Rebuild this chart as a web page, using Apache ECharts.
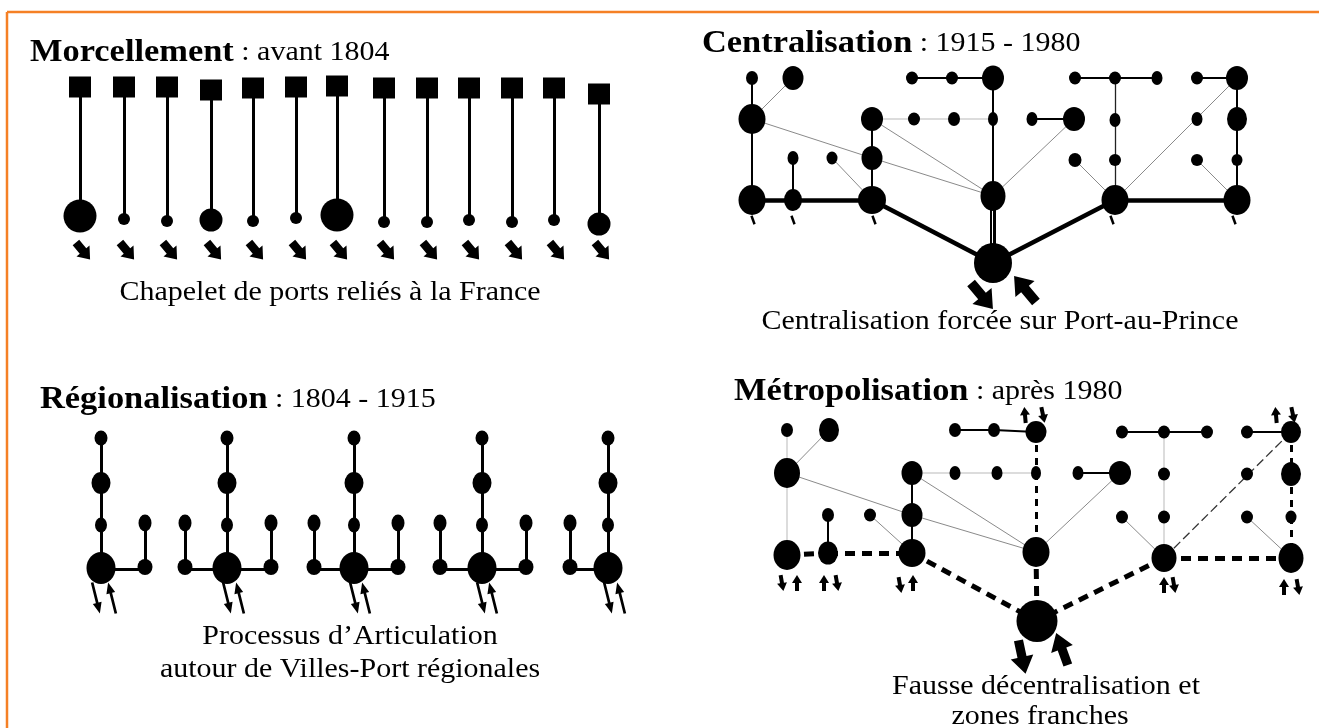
<!DOCTYPE html>
<html>
<head>
<meta charset="utf-8">
<script src="https://cdn.jsdelivr.net/npm/echarts@6/dist/echarts.min.js"></script>
<style>
html, body { margin: 0; padding: 0; background: #fff; }
#chart { width: 1319px; height: 728px; }
</style>
</head>
<body>
<div id="chart"></div>
<script>
// page is laid out in pixel units, axes are hidden
const W = 1319, H = 728;

// Morcellement : one port per line, each linked to France
const p1PortX = [80, 124, 167, 211, 253, 296, 337, 384, 427, 469, 512, 554, 599];
const p1SquareY = [87, 87, 87, 90, 88, 87, 86, 88, 88, 88, 88, 88, 94];
const p1PortY = [216, 219, 221, 220, 221, 218, 215, 222, 222, 220, 222, 220, 224];
const p1PortSize = [33, 12, 12, 23, 12, 12, 33, 12, 12, 12, 12, 12, 23];

// Régionalisation : five regional port-cities
const p3HubX = [101, 227, 354, 482, 608];
const p3ChainY = [438, 483, 525, 568];
const p3ChainSize = [[13, 15], [19, 22], [12, 15], [29, 32]];
const p3LeftX = [null, 185, 314, 440, 570];
const p3RightX = [145, 271, 398, 526, null];
const p3SideY = [523, 567];
const p3DownX = [96, 227, 354, 481, 608];
const p3UpX = [112, 240, 366, 493, 621];

// Centralisation : nodes [x, y, w, h]
const p2Nodes = [
    [752, 78, 12, 14], [793, 78, 21, 24], [912, 78, 12, 13], [952, 78, 12, 13], [993, 78, 22, 25],
    [1075, 78, 12, 13], [1115, 78, 12, 13], [1157, 78, 11, 14], [1197, 78, 12, 13], [1237, 78, 22, 24],
    [752, 119, 27, 30], [872, 119, 22, 24], [914, 119, 12, 13], [954, 119, 12, 14], [993, 119, 10, 14],
    [1032, 119, 11, 14], [1074, 119, 22, 24], [1115, 120, 11, 14], [1197, 119, 11, 14], [1237, 119, 20, 24],
    [793, 158, 11, 14], [832, 158, 11, 13], [872, 158, 21, 24], [1075, 160, 13, 14], [1115, 160, 12, 12],
    [1197, 160, 12, 12], [1237, 160, 11, 12],
    [752, 200, 27, 30], [793, 200, 18, 22], [872, 200, 28, 28], [993, 196, 25, 30], [1115, 200, 27, 30],
    [1237, 200, 27, 30],
    [993, 263, 38, 40]
];
const p2Edges = [
    [0, 10, 'b'], [10, 27, 'b'], [2, 3, 'b'], [3, 4, 'b'], [4, 14, 'b'], [14, 30, 'b'], [15, 16, 'b'],
    [5, 6, 'b'], [6, 7, 'b'], [6, 17, 'bt'], [17, 24, 'bt'], [24, 31, 'bt'],
    [8, 9, 'b'], [9, 19, 'b'], [19, 26, 'b'], [26, 32, 'b'], [20, 28, 'b'], [11, 22, 'b'], [22, 29, 'b'],
    [1, 10, 'g'], [10, 22, 'g'], [11, 30, 'g'], [22, 30, 'g'], [16, 30, 'g'], [21, 29, 'g'],
    [23, 31, 'g'], [9, 31, 'g'], [25, 32, 'g'],
    [11, 12, 'lg'], [12, 13, 'lg'], [13, 14, 'lg'],
    [27, 28, 'T'], [28, 29, 'T'], [29, 33, 'T'], [30, 33, 'TT'], [31, 33, 'T'], [31, 32, 'T']
];
const p2TickX = [753, 793, 874, 1112, 1234];
const p2HubArrows = [[982, 296, 40], [1025, 289, 220]];

// Métropolisation : same network, new links
const p4Nodes = [
    [787, 430, 12, 14], [829, 430, 20, 24], [955, 430, 12, 14], [994, 430, 12, 14], [1036, 432, 21, 22],
    [1122, 432, 12, 13], [1164, 432, 12, 13], [1207, 432, 12, 13], [1247, 432, 12, 13], [1291, 432, 20, 22],
    [787, 473, 26, 30], [912, 473, 21, 24], [955, 473, 11, 14], [997, 473, 11, 14], [1036, 473, 10, 14],
    [1078, 473, 11, 14], [1120, 473, 22, 24], [1164, 474, 12, 13], [1247, 474, 12, 13], [1291, 474, 20, 24],
    [828, 515, 12, 14], [870, 515, 12, 13], [912, 515, 21, 24], [1122, 517, 12, 13], [1164, 517, 12, 13],
    [1247, 517, 12, 13], [1291, 517, 11, 13],
    [787, 555, 27, 30], [828, 553, 20, 23], [912, 553, 27, 28], [1036, 552, 27, 30], [1164, 558, 25, 28],
    [1291, 558, 25, 30],
    [1037, 621, 41, 42]
];
const p4Edges = [
    [0, 10, 'lg'], [10, 27, 'lg'], [2, 3, 'b'], [3, 4, 'b'], [4, 14, 'd'], [14, 30, 'd'], [15, 16, 'b'],
    [5, 6, 'b'], [6, 7, 'b'], [6, 17, 'lg'], [17, 24, 'lg'], [24, 31, 'lg'],
    [8, 9, 'b'], [9, 19, 'd'], [19, 26, 'd'], [26, 32, 'd'], [20, 28, 'b'], [11, 22, 'b'], [22, 29, 'b'],
    [1, 10, 'g'], [10, 22, 'g'], [11, 30, 'g'], [22, 30, 'g'], [16, 30, 'g'], [21, 29, 'g'],
    [23, 31, 'g'], [9, 31, 'dl'], [25, 32, 'g'],
    [11, 12, 'lg'], [12, 13, 'lg'], [13, 14, 'lg'],
    [27, 28, 'D'], [28, 29, 'D'], [29, 33, 'D'], [30, 33, 'D'], [31, 33, 'D'], [31, 32, 'D']
];
// small in/out arrows: [x, y, rotation of a down arrow]
const p4SmallArrows = [
    [782, 583, 10], [797, 583, 180], [824, 583, 180], [837, 583, 10], [900, 585, 10], [913, 583, 180],
    [1164, 585, 180], [1174, 585, 10], [1284, 587, 180], [1298, 587, 10],
    [1025, 415, 185], [1043, 415, 12], [1276, 415, 185], [1293, 415, 12]
];
const p4HubArrows = [[1022, 657, 12], [1062, 649, 200]];

// texts
const titles = [
    { x: 30, y: 53, bold: 'Morcellement', rest: ' : avant 1804' },
    { x: 702, y: 44, bold: 'Centralisation', rest: ' : 1915 - 1980' },
    { x: 40, y: 400, bold: 'Régionalisation', rest: ' : 1804 - 1915' },
    { x: 734, y: 392, bold: 'Métropolisation', rest: ' : après 1980' }
];
const captions = [
    { x: 330, y: 293, text: 'Chapelet de ports reliés à la France' },
    { x: 1000, y: 322, text: 'Centralisation forcée sur Port-au-Prince' },
    { x: 350, y: 637, text: 'Processus d’Articulation' },
    { x: 350, y: 670, text: 'autour de Villes-Port régionales' },
    { x: 1046, y: 687, text: 'Fausse décentralisation et' },
    { x: 1040, y: 717, text: 'zones franches' }
];

const SERIF = '"Liberation Serif", "Times New Roman", serif';
const STRETCH = 1.11;

const ARROW_FAT = 'path://M3,0 L9,0 L9,7 L12,7 L6,14 L0,7 L3,7 Z';
const ARROW_BLOCK = 'path://M3,0 L7,0 L7,7 L10,7 L5,14 L0,7 L3,7 Z';
const ARROW_THIN = 'path://M1.4,0 L2.6,0 L2.6,21 L4,21 L2,32 L0,21 L1.4,21 Z';

const edgeStyle = {
    lg: { color: '#dcdcdc', width: 2, type: 'solid', z: 1 },
    g: { color: '#8a8a8a', width: 1, type: 'solid', z: 1 },
    bt: { color: '#222', width: 1.3, type: 'solid', z: 2 },
    b: { color: '#000', width: 2, type: 'solid', z: 2 },
    dl: { color: '#333', width: 1.3, type: [9, 4], z: 2 },
    d: { color: '#000', width: 3, type: [7, 6], z: 2 },
    T: { color: '#000', width: 4.5, type: 'solid', z: 2 },
    TT: { color: '#000', width: 6, type: 'solid', z: 2 },
    D: { color: '#000', width: 5, type: [10, 7], z: 2 }
};

// collect line segments grouped by style
let segs = {};
Object.keys(edgeStyle).forEach(k => segs[k] = []);
let white = [];

function addNet(nodes, edges) {
    edges.forEach(e => {
        let a = nodes[e[0]], b = nodes[e[1]];
        segs[e[2]].push({ coords: [[a[0], a[1]], [b[0], b[1]]] });
        if (e[2] === 'TT') white.push({ coords: [[a[0] - 1, a[1]], [b[0] - 1, b[1]]] });
    });
}
addNet(p2Nodes, p2Edges);
addNet(p4Nodes, p4Edges);

// panel 1 stems
p1PortX.forEach((x, i) => {
    segs.b.push({ coords: [[x, p1SquareY[i]], [x, p1PortY[i]]], lineStyle: { width: 3 } });
});

// panel 3 chains
p3HubX.forEach((x, i) => {
    segs.b.push({ coords: [[x, p3ChainY[0]], [x, p3ChainY[3]]], lineStyle: { width: 3 } });
    [p3LeftX[i], p3RightX[i]].forEach(sx => {
        if (sx == null) return;
        segs.b.push({ coords: [[sx, p3SideY[0]], [sx, p3SideY[1]]], lineStyle: { width: 3 } });
    });
    let l = p3LeftX[i] == null ? x : p3LeftX[i];
    let r = p3RightX[i] == null ? x : p3RightX[i];
    segs.b.push({ coords: [[l, p3SideY[1] + 2], [r, p3SideY[1] + 2]], lineStyle: { width: 3 } });
});

// nodes
let nodeData = [];
p1PortX.forEach((x, i) => nodeData.push({ value: [x, p1PortY[i]], symbolSize: [p1PortSize[i], p1PortSize[i]] }));
p2Nodes.concat(p4Nodes).forEach(n => nodeData.push({ value: [n[0], n[1]], symbolSize: [n[2], n[3]] }));
p3HubX.forEach((x, i) => {
    p3ChainY.forEach((y, j) => nodeData.push({ value: [x, y], symbolSize: p3ChainSize[j] }));
    [p3LeftX[i], p3RightX[i]].forEach(sx => {
        if (sx == null) return;
        nodeData.push({ value: [sx, p3SideY[0]], symbolSize: [13, 17] });
        nodeData.push({ value: [sx, p3SideY[1]], symbolSize: [15, 16] });
    });
});

// arrows
let arrowData = [];
p1PortX.forEach(x => arrowData.push({ value: [x + 3, 251], symbol: ARROW_FAT, symbolSize: [17, 22], symbolRotate: 40 }));
p2HubArrows.forEach(a => arrowData.push({ value: [a[0], a[1]], symbol: ARROW_BLOCK, symbolSize: [25, 34], symbolRotate: a[2] }));
p2TickX.forEach(x => arrowData.push({ value: [x, 220], symbol: 'rect', symbolSize: [2.5, 9], symbolRotate: 20 }));
p3DownX.forEach(x => arrowData.push({ value: [x, 598], symbol: ARROW_THIN, symbolSize: [9, 32], symbolRotate: 14 }));
p3UpX.forEach(x => arrowData.push({ value: [x, 598], symbol: ARROW_THIN, symbolSize: [9, 32], symbolRotate: 194 }));
p4SmallArrows.forEach(a => arrowData.push({ value: [a[0], a[1]], symbol: ARROW_BLOCK, symbolSize: [10, 16], symbolRotate: a[2] }));
p4HubArrows.forEach(a => arrowData.push({ value: [a[0], a[1]], symbol: ARROW_BLOCK, symbolSize: [23, 34], symbolRotate: a[2] }));

let series = [];
Object.keys(edgeStyle).forEach(k => {
    let s = edgeStyle[k];
    series.push({
        type: 'lines',
        coordinateSystem: 'cartesian2d',
        z: s.z,
        silent: true,
        lineStyle: { color: s.color, width: s.width, type: s.type, opacity: 1 },
        data: segs[k]
    });
});
series.push({
    type: 'lines',
    coordinateSystem: 'cartesian2d',
    z: 3,
    silent: true,
    lineStyle: { color: '#fff', width: 1, opacity: 1 },
    data: white
});
series.push({
    type: 'scatter',
    z: 4,
    silent: true,
    symbol: 'rect',
    symbolSize: [22, 21],
    itemStyle: { color: '#000', opacity: 1 },
    data: p1PortX.map((x, i) => [x, p1SquareY[i]])
});
series.push({
    type: 'scatter',
    z: 4,
    silent: true,
    symbol: 'circle',
    itemStyle: { color: '#000', opacity: 1 },
    data: nodeData
});
series.push({
    type: 'scatter',
    z: 5,
    silent: true,
    itemStyle: { color: '#000', opacity: 1 },
    data: arrowData
});

let graphics = [
    { type: 'line', shape: { x1: 7, y1: 12, x2: W, y2: 12 }, style: { stroke: '#F58025', lineWidth: 2.5 } },
    { type: 'line', shape: { x1: 7, y1: 12, x2: 7, y2: H }, style: { stroke: '#F58025', lineWidth: 2.5 } }
];
titles.forEach(t => graphics.push({
    type: 'text', x: t.x, y: t.y, scaleX: STRETCH,
    style: {
        text: '{b|' + t.bold + '}' + t.rest,
        fontFamily: SERIF, fontSize: 27, fill: '#000',
        align: 'left', verticalAlign: 'middle',
        rich: { b: { fontFamily: SERIF, fontSize: 31, fontWeight: 'bold', fill: '#000' } }
    }
}));
captions.forEach(c => graphics.push({
    type: 'text', x: c.x, y: c.y, scaleX: STRETCH,
    style: {
        text: c.text, fontFamily: SERIF, fontSize: 27, fill: '#000',
        align: 'center', verticalAlign: 'middle'
    }
}));

let chart = echarts.init(document.getElementById('chart'));
chart.setOption({
    animation: false,
    backgroundColor: '#fff',
    grid: { left: 0, right: 0, top: 0, bottom: 0 },
    xAxis: { type: 'value', min: 0, max: W, show: false },
    yAxis: { type: 'value', min: 0, max: H, inverse: true, show: false },
    series: series,
    graphic: graphics
});
</script>
</body>
</html>
